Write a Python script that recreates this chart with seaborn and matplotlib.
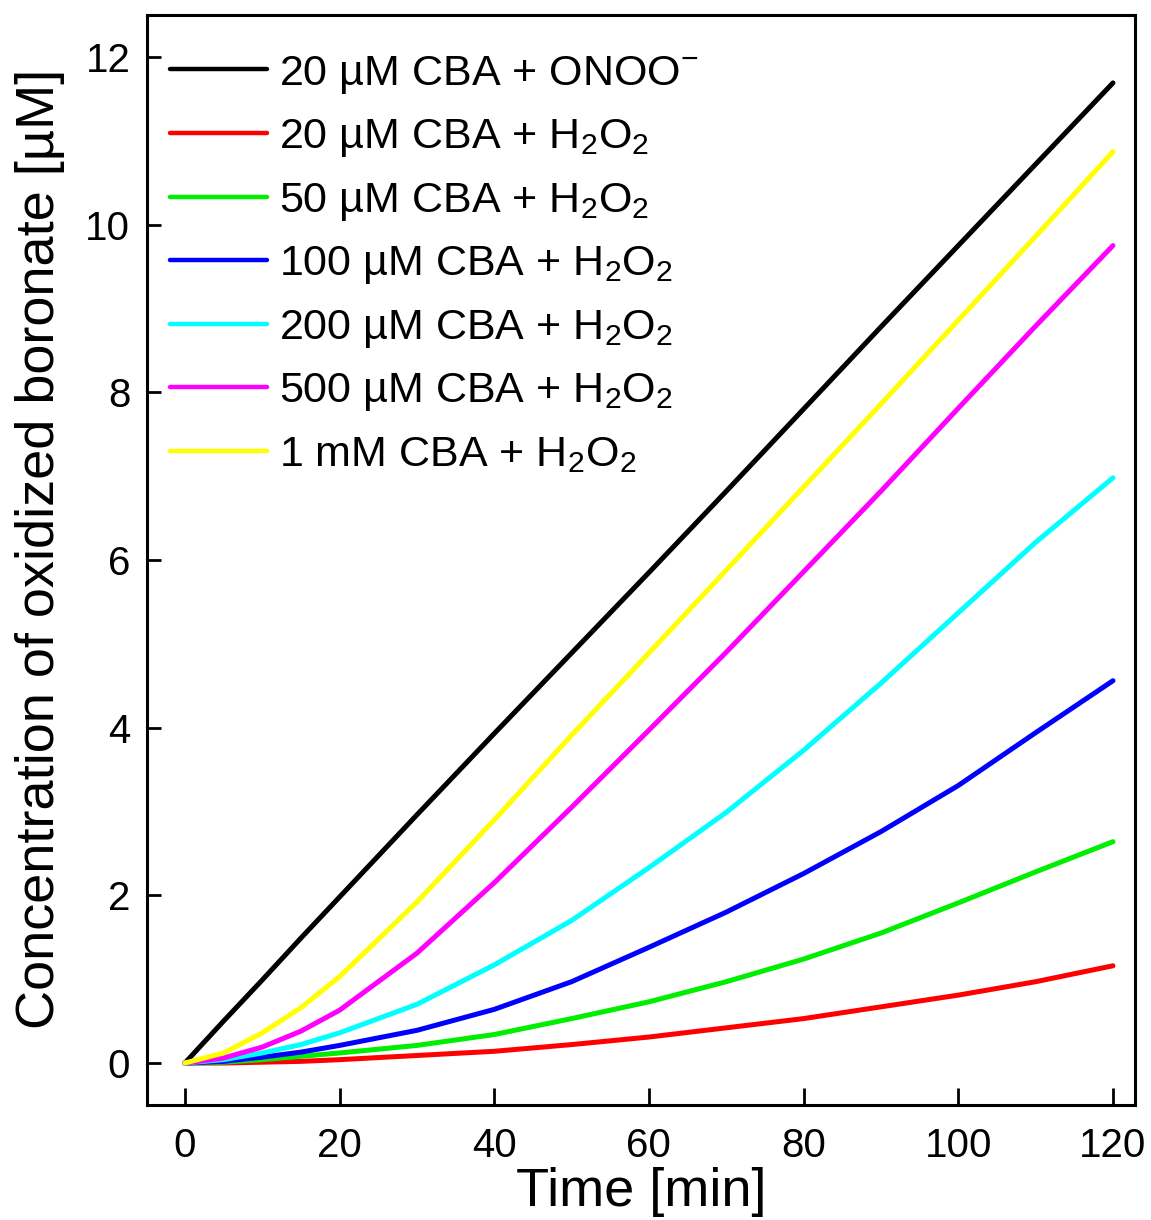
import numpy as np
import pandas as pd
import seaborn as sns
from matplotlib import pyplot as plt

# time points [min]
time = [0, 5, 10, 15, 20, 30, 40, 50, 60, 70, 80, 90, 100, 110, 120]

# concentration of oxidized boronate [uM]
onoo_20 = [0, 0.5, 0.99, 1.49, 1.98, 2.96, 3.93, 4.89, 5.85, 6.82, 7.8, 8.78, 9.75, 10.72, 11.69]
h2o2_20 = [0, 0.0, 0.01, 0.02, 0.04, 0.09, 0.14, 0.22, 0.31, 0.42, 0.53, 0.67, 0.81, 0.97, 1.16]
h2o2_50 = [0, 0.01, 0.04, 0.08, 0.12, 0.21, 0.34, 0.53, 0.73, 0.97, 1.24, 1.55, 1.91, 2.28, 2.64]
h2o2_100 = [0, 0.02, 0.07, 0.13, 0.21, 0.39, 0.64, 0.97, 1.38, 1.80, 2.26, 2.76, 3.31, 3.94, 4.56]
h2o2_200 = [0, 0.04, 0.12, 0.22, 0.36, 0.70, 1.17, 1.70, 2.33, 2.99, 3.73, 4.53, 5.37, 6.21, 6.98]
h2o2_500 = [0, 0.06, 0.19, 0.38, 0.63, 1.31, 2.15, 3.05, 3.97, 4.90, 5.86, 6.82, 7.81, 8.79, 9.75]
h2o2_1000 = [0, 0.12, 0.36, 0.66, 1.03, 1.92, 2.9, 3.91, 4.89, 5.88, 6.87, 7.86, 8.86, 9.86, 10.87]

labels = [
    "20 µM CBA + ONOO$^{-}$",
    "20 µM CBA + H$_2$O$_2$",
    "50 µM CBA + H$_2$O$_2$",
    "100 µM CBA + H$_2$O$_2$",
    "200 µM CBA + H$_2$O$_2$",
    "500 µM CBA + H$_2$O$_2$",
    "1 mM CBA + H$_2$O$_2$",
]
series = [onoo_20, h2o2_20, h2o2_50, h2o2_100, h2o2_200, h2o2_500, h2o2_1000]
colors = ["#000000", "#ff0000", "#00ee00", "#0000ff", "#00ffff", "#ff00ff", "#ffff00"]

sns.set_style("ticks")
plt.rcParams['font.family'] = ['Liberation Sans', 'DejaVu Sans']
plt.rcParams['mathtext.fontset'] = 'custom'
plt.rcParams['mathtext.rm'] = 'Liberation Sans'
plt.rcParams['mathtext.it'] = 'Liberation Sans'
plt.rcParams['mathtext.default'] = 'regular'
plt.rcParams['text.color'] = 'black'
plt.rcParams['axes.labelcolor'] = 'black'
plt.rcParams['xtick.color'] = 'black'
plt.rcParams['ytick.color'] = 'black'

fig = plt.figure(figsize=(11.51, 12.2), dpi=100)
ax = fig.add_axes([0.1277, 0.0943, 0.8584, 0.8934])

for lab, vals, c in zip(labels, series, colors):
    df = pd.DataFrame({"t": time, "c": vals})
    sns.lineplot(data=df, x="t", y="c", color=c, lw=3.6, label=lab, ax=ax)

ax.set_xlim(-4.9, 122.85)
ax.set_ylim(-0.5, 12.5)
ax.set_xticks(np.arange(0, 121, 20))
ax.set_yticks(np.arange(0, 13, 2))
ax.tick_params(direction="in", length=12, width=2, labelsize=29, pad=12)
ax.tick_params(axis="x", pad=16)
ax.tick_params(axis="y", length=10)
for s in ax.spines.values():
    s.set_linewidth(2.2)
    s.set_color("black")

ax.set_xlabel("Time [min]", fontsize=39)
ax.set_ylabel("Concentration of oxidized boronate [µM]", fontsize=39)
ax.xaxis.set_label_coords(0.5, -0.08)
ax.xaxis.label.set_va("center")
ax.yaxis.set_label_coords(-0.108, 0.51)
ax.yaxis.label.set_va("center")

leg = ax.legend(loc="upper left", frameon=False, fontsize=31,
                handlelength=2.25, handletextpad=0.28, labelspacing=0.5,
                borderaxespad=0.14, bbox_to_anchor=(0.0, 0.986))
for h in leg.get_lines():
    h.set_linewidth(3.2)

fig.savefig("out.png", dpi=100)
